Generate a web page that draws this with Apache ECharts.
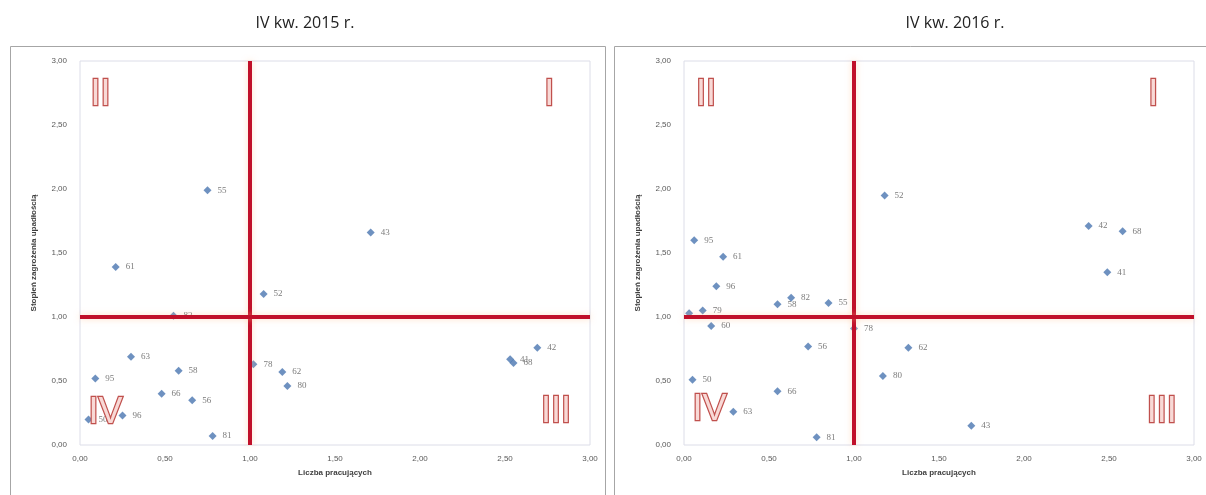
<!DOCTYPE html>
<html>
<head>
<meta charset="utf-8">
<script src="https://cdn.jsdelivr.net/npm/echarts@6/dist/echarts.min.js"></script>
<style>html,body{margin:0;padding:0;background:#fff;}#c{width:1206px;height:495px;}</style>
</head>
<body>
<div id="c"></div>
<script>
// ---- data ----
const titles = ['IV kw. 2015 r.', 'IV kw. 2016 r.'];
const xAxisName = 'Liczba pracujących';
const yAxisName = 'Stopień zagrożenia upadłością';

const names2015 = ['55','43','61','52','82','63','95','58','66','56','96','50','81','78','62','80','42','41','68'];
const x2015 =     [0.75,1.71,0.21,1.08,0.55,0.30,0.09,0.58,0.48,0.66,0.25,0.05,0.78,1.02,1.19,1.22,2.69,2.53,2.55];
const y2015 =     [1.99,1.66,1.39,1.18,1.01,0.69,0.52,0.58,0.40,0.35,0.23,0.20,0.07,0.63,0.57,0.46,0.76,0.67,0.64];

const names2016 = ['52','42','68','41','62','80','43','95','61','96','58','82','55','79','','60','78','56','50','66','63','81'];
const x2016 =     [1.18,2.38,2.58,2.49,1.32,1.17,1.69,0.06,0.23,0.19,0.55,0.63,0.85,0.11,0.03,0.16,1.00,0.73,0.05,0.55,0.29,0.78];
const y2016 =     [1.95,1.71,1.67,1.35,0.76,0.54,0.15,1.60,1.47,1.24,1.10,1.15,1.11,1.05,1.03,0.93,0.91,0.77,0.51,0.42,0.26,0.06];

const quadrantLabels = ['I','II','III','IV'];
const quadX2015 = [2.76, 0.12, 2.80, 0.15];
const quadY2015 = [2.73, 2.73, 0.26, 0.25];
const quadX2016 = [2.76, 0.13, 2.81, 0.15];
const quadY2016 = [2.73, 2.73, 0.26, 0.27];

const axisMin = 0, axisMax = 3, axisStep = 0.5;
const threshold = 1;

// ---- build ----
const fmt = v => v.toFixed(2).replace('.', ',');
const chart = echarts.init(document.getElementById('c'));

const grids = [
  {left: 80, top: 61, width: 510, height: 384},
  {left: 684, top: 61, width: 510, height: 384}
];
const titleCenters = [300, 950];

function makeAxes(i) {
  const common = {
    min: axisMin, max: axisMax, interval: axisStep, gridIndex: i,
    splitLine: {show: false},
    axisLine: {show: false},
    axisTick: {show: false},
    nameTextStyle: {fontSize: 8, fontWeight: 'bold', color: '#404040', fontFamily: 'Liberation Sans'},
    axisLabel: {formatter: fmt, fontSize: 8, color: '#595959', fontFamily: 'Liberation Sans'}
  };
  return {
    x: Object.assign({}, common, {type: 'value', name: xAxisName, nameLocation: 'middle', nameGap: 24, axisLabel: Object.assign({}, common.axisLabel, {margin: 10})}),
    y: Object.assign({}, common, {type: 'value', name: yAxisName, nameLocation: 'middle', nameGap: 42, axisLabel: Object.assign({}, common.axisLabel, {margin: 13})})
  };
}

const xAxes = [], yAxes = [], series = [];
const sets = [
  {names: names2015, xs: x2015, ys: y2015, qx: quadX2015, qy: quadY2015},
  {names: names2016, xs: x2016, ys: y2016, qx: quadX2016, qy: quadY2016}
];
sets.forEach((s, i) => {
  const a = makeAxes(i);
  xAxes.push(a.x); yAxes.push(a.y);
  series.push({
    type: 'scatter', xAxisIndex: i, yAxisIndex: i,
    symbol: 'diamond', symbolSize: 8,
    itemStyle: {color: '#4a76b0'},
    data: s.names.map((n, k) => ({name: n, value: [s.xs[k], s.ys[k]]})),
    label: {show: true, position: 'right', distance: 6, formatter: '{b}', fontSize: 9, color: '#595959', fontFamily: 'Liberation Serif'},
    markLine: {
      silent: true, symbol: 'none', animation: false,
      label: {show: false},
      lineStyle: {color: '#c0102a', width: 4, type: 'solid', shadowColor: 'rgba(255,190,140,0.5)', shadowBlur: 6},
      data: [{xAxis: threshold}, {yAxis: threshold}]
    },
    z: 3
  });
  series.push({
    type: 'scatter', xAxisIndex: i, yAxisIndex: i,
    symbol: 'circle', symbolSize: 1, silent: true, z: 4,
    itemStyle: {opacity: 0},
    data: quadrantLabels.map((q, k) => ({name: q, value: [s.qx[k], s.qy[k]]})),
    label: {
      show: true, position: 'inside', formatter: '{b}',
      fontSize: 36, fontFamily: 'Liberation Sans', color: '#f8d9d6',
      textBorderColor: '#c0504d', textBorderWidth: 2.5, opacity: 1
    },
    labelLayout: {hideOverlap: false}
  });
});

chart.setOption({
  animation: false,
  backgroundColor: '#fff',
  title: titles.map((t, i) => ({
    text: t, left: titleCenters[i], top: 10, textAlign: 'center',
    textStyle: {fontSize: 16, fontWeight: 'normal', color: '#222', fontFamily: 'Open Sans'}
  })),
  graphic: [
    {type: 'rect', shape: {x: 10.5, y: 46.5, width: 595, height: 460}, style: {fill: 'none', stroke: '#a6a6a6', lineWidth: 1}, z: -10},
    {type: 'rect', shape: {x: 614.5, y: 46.5, width: 600, height: 460}, style: {fill: 'none', stroke: '#a6a6a6', lineWidth: 1}, z: -10}
  ],
  grid: grids.map(g => Object.assign({show: true, borderColor: '#dcdde8', borderWidth: 1, backgroundColor: '#fff'}, g)),
  xAxis: xAxes,
  yAxis: yAxes,
  series: series
});
</script>
</body>
</html>
